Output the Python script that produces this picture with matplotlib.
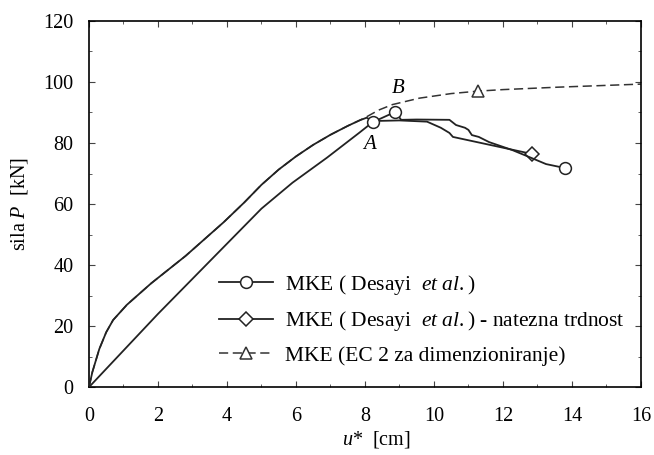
import matplotlib
matplotlib.use("Agg")
import matplotlib.pyplot as plt
from matplotlib.ticker import MultipleLocator

plt.rcParams['font.family'] = ['Liberation Serif', 'DejaVu Serif']
plt.rcParams['mathtext.fontset'] = 'custom'
plt.rcParams['mathtext.rm'] = 'Liberation Serif'
plt.rcParams['mathtext.it'] = 'Liberation Serif:italic'

# MKE (Desayi et al.)
u_des = [0, 1, 2, 3, 4, 5, 5.9, 6.9, 7.84, 8.22, 8.88, 9.05, 9.5, 10.45,
         10.64, 10.9, 11.0, 11.1, 11.3, 11.6, 12.27, 12.85, 13.25, 13.8]
p_des = [0, 12, 24, 35.5, 47, 58.5, 67, 75.2, 83.4, 86.8, 90.2, 87.6, 87.7, 87.6,
         85.9, 85.0, 84.3, 82.6, 82.0, 80.3, 77.7, 75.0, 73.1, 71.8]
mk_des = [9, 10, 23]

# MKE (Desayi et al.) - natezna trdnost
u_nat = [0, 0.1, 0.3, 0.5, 0.7, 1.1, 1.8, 2.8, 3.9, 4.5, 5.0, 5.5, 6.0, 6.5,
         7.0, 7.5, 7.84, 8.05, 8.22, 9.0, 9.8, 10.2, 10.45, 10.55, 12.85]
p_nat = [0, 5, 12.5, 18, 22, 27, 34, 43, 54, 60.5, 66.3, 71.3, 75.6, 79.4,
         82.7, 85.6, 87.4, 88.3, 87.2, 87.4, 87.0, 85.0, 83.3, 82.0, 76.4]
mk_nat = [24]

# MKE (EC 2 za dimenzioniranje)
u_ec = [0, 0.1, 0.3, 0.5, 0.7, 1.1, 1.8, 2.8, 3.9, 4.5, 5.0, 5.5, 6.0, 6.5,
        7.0, 7.5, 7.84, 8.05, 8.4, 8.8, 9.58, 10.5, 11.28, 12.0, 13.6, 16.0]
p_ec = [0, 5, 12.5, 18, 22, 27, 34, 43, 54, 60.5, 66.3, 71.3, 75.6, 79.4,
        82.7, 85.6, 87.4, 88.6, 90.8, 92.6, 94.7, 96.2, 97.0, 97.5, 98.3, 99.3]
mk_ec = [22]

fig = plt.figure(figsize=(6.54, 4.55), dpi=100)
ax = fig.add_axes([0.136, 0.149, 0.844, 0.805])

ax.plot(u_ec, p_ec, color='#333333', lw=1.1, ls=(0, (6, 3)), marker='^', markevery=mk_ec,
        ms=8.5, mfc='white', mec='#333333', mew=1.1,
        label=r'MKE (EC 2 za dimenzioniranje)', zorder=2)
ax.plot(u_nat, p_nat, color='#222222', lw=1.3, marker='D', markevery=mk_nat,
        ms=7, mfc='white', mec='#222222', mew=1.1,
        label=r'MKE ( Desayi  $et\ al.$) - natezna trdnost', zorder=3)
ax.plot(u_des, p_des, color='#222222', lw=1.3, marker='o', markevery=mk_des,
        ms=8.5, mfc='white', mec='#222222', mew=1.1,
        label=r'MKE ( Desayi  $et\ al.$)', zorder=4)

ax.text(8.13, 79.5, 'A', fontsize=15, style='italic', ha='center', va='center')
ax.text(8.95, 98, 'B', fontsize=15, style='italic', ha='center', va='center')

ax.set_xlim(0, 16)
ax.set_ylim(0, 120)
ax.xaxis.set_major_locator(MultipleLocator(2))
ax.xaxis.set_minor_locator(MultipleLocator(1))
ax.yaxis.set_major_locator(MultipleLocator(20))
ax.yaxis.set_minor_locator(MultipleLocator(10))
ax.tick_params(which='both', direction='in', top=True, right=True, labelsize=14.5,
               color='#444444')
ax.tick_params(which='major', length=4)
ax.tick_params(which='minor', length=2.5)
ax.tick_params(axis='x', pad=14)
ax.tick_params(axis='y', pad=11)
for s in ax.spines.values():
    s.set_linewidth(1.2)

ax.set_xlabel(r'$u$*  [cm]', fontsize=14.5, labelpad=4)
ax.xaxis.set_label_coords(0.52, -0.115)
ax.set_ylabel(r'sila $P$  [kN]', fontsize=14.5, labelpad=10)

h, l = ax.get_legend_handles_labels()
ax.legend(h[::-1], l[::-1], loc='lower right', bbox_to_anchor=(1.005, 0.005),
          frameon=False, fontsize=15.5, handlelength=2.5, handletextpad=0.55,
          labelspacing=0.58)

fig.savefig('out.png', dpi=100)
